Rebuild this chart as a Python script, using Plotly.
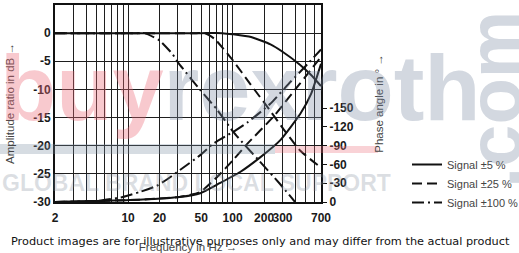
import plotly.graph_objects as go

# ---------------- data ----------------
# Amplitude ratio in dB
amp5_freq = [2, 20, 50, 80, 100, 150, 230, 300, 440, 560, 700]
amp5_db = [0, 0, 0, 0, -0.2, -0.7, -2.0, -3.3, -5.6, -7.4, -9.4]

amp25_freq = [2, 20, 45, 54, 60, 68, 101, 147, 229, 319, 444, 700]
amp25_db = [0, 0, 0, 0, -0.4, -1.1, -4.9, -9.0, -13.8, -17.5, -20.9, -23.9]

amp100_freq = [2, 8, 12, 14.4, 20, 26.8, 30, 49, 71, 101, 131, 172, 284, 395]
amp100_db = [0, 0, 0, 0, -1.3, -3.8, -5.2, -10.1, -13.6, -17.5, -19.9, -22.3, -26.8, -30]

# Phase angle in degrees
ph5_freq = [2, 10.4, 31, 49, 75, 118, 182, 286, 444, 560, 700]
ph5_deg = [0, -3, -8, -14, -30, -48, -71, -99, -141, -172, -221]

ph25_freq = [2, 10.4, 31, 49, 71, 101, 138, 244, 397, 700]
ph25_deg = [0, -3, -8, -16, -40, -67, -93, -136, -180, -232]

ph100_freq = [2, 5.3, 8.9, 12.9, 18.9, 23.5, 31.3, 49, 65, 101, 138, 229, 357, 517, 700]
ph100_deg = [0, -2, -8, -16, -26, -36, -51, -75, -93, -112, -127, -157, -192, -220, -244]

legend_names = ["Signal ±5 %", "Signal ±25 %", "Signal ±100 %"]

# axis ticks
x_grid = [2, 3, 4, 5, 6, 7, 8, 9, 10, 20, 30, 40, 50, 60, 70, 80, 90,
          100, 200, 300, 400, 500, 600, 700]
x_labels = [2, 10, 20, 50, 100, 200, 300, 700]
y_ticks = [5, 0, -5, -10, -15, -20, -25, -30]
phase_ticks = [0, -30, -60, -90, -120, -150]

# ---------------- figure ----------------
W, H = 519, 253
L, R, T, B = 55, 198, 5, 51


def px(p):
    return (p - L) / (W - L - R)


def py(p):
    return (H - B - p) / (H - T - B)


dashes = ["solid", "10px,5px", "12px,4px,2px,4px"]
amp_sets = [(amp5_freq, amp5_db), (amp25_freq, amp25_db), (amp100_freq, amp100_db)]
ph_sets = [(ph5_freq, ph5_deg), (ph25_freq, ph25_deg), (ph100_freq, ph100_deg)]

fig = go.Figure()
for name, dash, (f, v) in zip(legend_names, dashes, amp_sets):
    fig.add_trace(go.Scatter(x=f, y=v, mode="lines", name=name,
                             line=dict(color="#111", width=2, dash=dash, shape="spline", smoothing=0.5),
                             legendgroup=name))
for name, dash, (f, v) in zip(legend_names, dashes, ph_sets):
    fig.add_trace(go.Scatter(x=f, y=v, mode="lines", name=name, yaxis="y2",
                             line=dict(color="#111", width=2, dash=dash, shape="spline", smoothing=0.5),
                             legendgroup=name, showlegend=False))

tick_font = dict(family="Liberation Sans", size=12, color="#1a1a1a", weight="bold")
title_font = dict(family="Liberation Sans", size=11.5, color="#444")

fig.update_layout(
    width=W, height=H,
    margin=dict(l=L, r=R, t=T, b=B, pad=0, autoexpand=False),
    paper_bgcolor="white", plot_bgcolor="white",
    showlegend=True,
    legend=dict(x=px(407), y=py(150), xanchor="left", yanchor="top",
                font=dict(family="Liberation Sans", size=11, color="#444"),
                bgcolor="rgba(0,0,0,0)", tracegroupgap=0, itemwidth=30),
    xaxis=dict(type="log", range=[0.30103, 2.845098],
               tickvals=x_grid,
               ticktext=[str(v) if v in x_labels else "" for v in x_grid],
               tickangle=0, automargin=False, ticklabelstandoff=4,
               showgrid=True, gridcolor="#1e1e1e", gridwidth=1.4,
               showline=True, linecolor="#111", linewidth=2, mirror=True,
               ticks="", tickfont=tick_font,
               title=dict(text="Frequency in Hz →", font=title_font, standoff=20)),
    yaxis=dict(range=[-30, 5], tickvals=y_ticks, ticktext=[str(v) for v in y_ticks],
               automargin=False,
               showgrid=True, gridcolor="#1e1e1e", gridwidth=1.4, zeroline=False,
               showline=True, linecolor="#111", linewidth=2, mirror=True,
               ticks="", tickfont=tick_font,
               title=dict(text="Amplitude ratio in dB →", font=title_font, standoff=16)),
    yaxis2=dict(overlaying="y", side="right", range=[0, -315], automargin=False,
                tickvals=phase_ticks, ticktext=[str(v) for v in phase_ticks],
                showgrid=False, zeroline=False, showline=False,
                ticks="outside", ticklen=5, tickwidth=1, tickcolor="#111",
                tickfont=tick_font,
                title=dict(text="Phase angle in ° →", font=title_font, standoff=22)),
)

# ---------------- watermark overlay ----------------
pink = "rgba(235,105,120,0.36)"
grey = "rgba(120,138,160,0.33)"
fig.add_shape(type="rect", xref="paper", yref="paper", layer="above",
              x0=px(0), x1=px(275), y0=py(154), y1=py(144),
              fillcolor="rgba(120,138,160,0.30)", line_width=0)
fig.add_shape(type="rect", xref="paper", yref="paper", layer="above",
              x0=px(275), x1=px(378), y0=py(153), y1=py(146),
              fillcolor="rgba(235,105,120,0.30)", line_width=0)
fig.add_annotation(xref="paper", yref="paper", x=px(-2), y=py(88),
                   xanchor="left", yanchor="middle", showarrow=False,
                   text=f"<span style='color:{pink}'>buy</span><span style='color:{grey}'>rexroth</span>",
                   font=dict(family="Liberation Sans", size=92, weight="bold"))
fig.add_annotation(xref="paper", yref="paper", x=px(0), y=py(183),
                   xanchor="left", yanchor="middle", showarrow=False,
                   text="GLOBAL BRAND LOCAL SUPPORT",
                   font=dict(family="Liberation Sans", size=23, weight="bold",
                             color="rgba(130,140,155,0.28)"))
fig.add_annotation(xref="paper", yref="paper", x=px(494), y=py(100),
                   xanchor="center", yanchor="middle", showarrow=False, textangle=-90,
                   text=".com",
                   font=dict(family="Liberation Sans", size=76, weight="bold", color=grey))

# disclaimer line
fig.add_annotation(xref="paper", yref="paper", x=px(260), y=py(241),
                   xanchor="center", yanchor="middle", showarrow=False,
                   text="Product images are for illustrative purposes only and may differ from the actual product",
                   font=dict(family="DejaVu Sans", size=11.3, color="#111"))

fig.write_html("out.html")
